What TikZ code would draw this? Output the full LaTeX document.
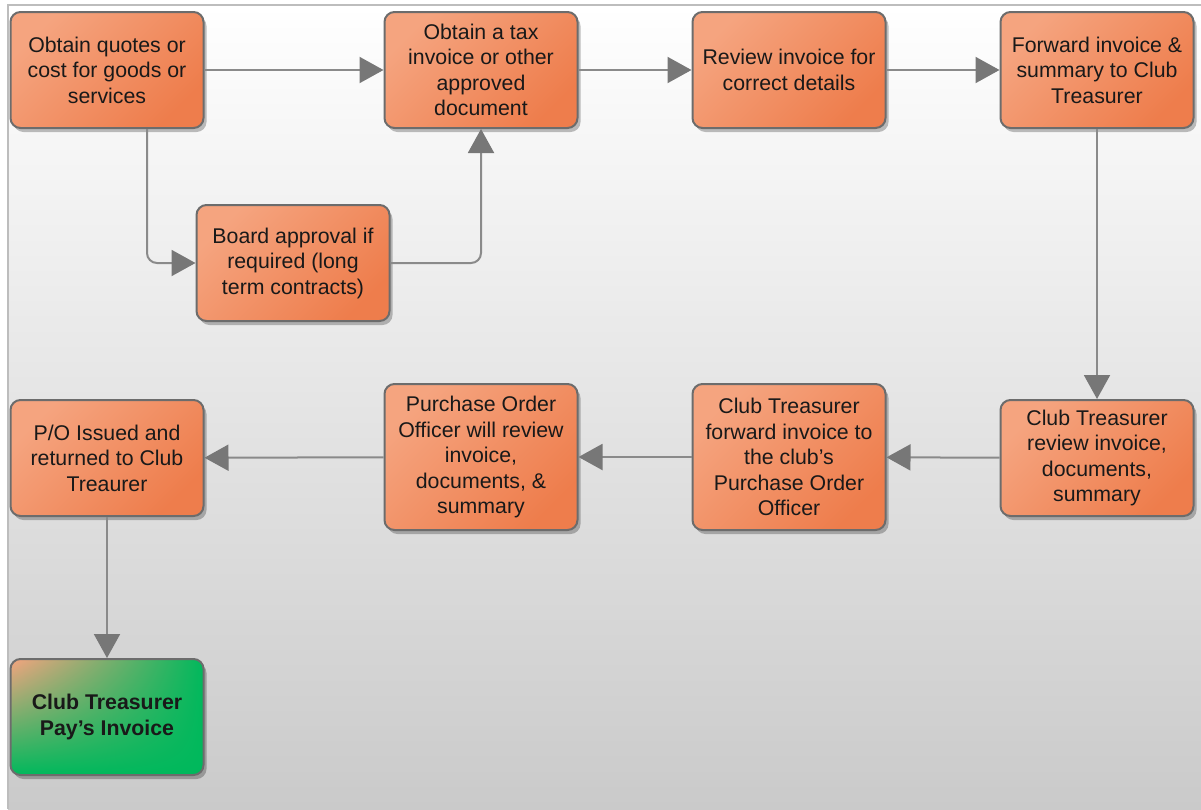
\documentclass[tikz,border=0pt]{standalone}
\usepackage{fontspec}
\setmainfont{Liberation Sans}
\usetikzlibrary{arrows.meta,shadows,shadings,positioning}
\definecolor{orA}{HTML}{F5A47F}
\definecolor{orB}{HTML}{EE7D4C}
\definecolor{grn}{HTML}{00B85C}
\definecolor{edge}{HTML}{6C6C6C}
\definecolor{linec}{HTML}{8A8A8A}
\definecolor{tipc}{HTML}{777777}
\definecolor{bgbot}{HTML}{CACACA}
\definecolor{frame}{HTML}{BDBDBD}
\tikzset{
  boxbase/.style={draw=edge, line width=2pt, rounded corners=10pt,
    minimum width=193pt, minimum height=116pt, align=center,
    inner sep=0pt, text=black!90,
    drop shadow={shadow xshift=3pt, shadow yshift=-4pt, fill=black, opacity=0.25}},
  stepbox/.style={boxbase, font=\fontsize{21.3}{25.5}\selectfont,
    left color=orA, right color=orB, shading angle=45},
  tallbox/.style={stepbox, minimum height=146pt},
  greenbox/.style={boxbase, font=\bfseries\fontsize{21.3}{25.5}\selectfont,
    upper left=orA, upper right=grn, lower left=grn, lower right=grn},
  arr/.style={draw=linec, line width=2pt, -{Triangle[length=24pt,width=26pt,color=tipc,fill=tipc]}}
}
\begin{document}
\begin{tikzpicture}[x=1pt,y=-1pt]
\useasboundingbox (0,0) rectangle (1201,809);
\fill[white] (0,0) rectangle (1201,809);
\shade[top color=white, bottom color=bgbot] (8,5) rectangle (1201,809);
\draw[frame, line width=1.5pt] (8,809) -- (8,5) -- (1201,5);

\node[stepbox] (b1) at (107,70) {Obtain quotes or\\cost for goods or\\services};
\node[stepbox] (b2) at (481,70) {Obtain a tax\\invoice or other\\approved\\document};
\node[stepbox] (b3) at (789,70) {Review invoice for\\correct details};
\node[stepbox] (b4) at (1097,70) {Forward invoice \&\\summary to Club\\Treasurer};
\node[stepbox] (b5) at (293,263) {Board approval if\\required (long\\term contracts)};
\node[stepbox] (b6) at (1097,458) {Club Treasurer\\review invoice,\\documents,\\summary};
\node[tallbox] (b7) at (789,457) {Club Treasurer\\forward invoice to\\the club’s\\Purchase Order\\Officer};
\node[tallbox] (b8) at (481,457) {Purchase Order\\Officer will review\\invoice,\\documents, \&\\summary};
\node[stepbox] (b9) at (107,458) {P/O Issued and\\returned to Club\\Treaurer};
\node[greenbox] (b10) at (107,717) {Club Treasurer\\Pay’s Invoice};

\draw[arr] (b1) -- (b2);
\draw[arr] (b2) -- (b3);
\draw[arr] (b3) -- (b4);
\draw[arr, rounded corners=10pt] ([xshift=40pt]b1.south) |- (b5.west);
\draw[arr, rounded corners=10pt] (b5.east) -| (b2.south);
\draw[arr] (b4) -- (b6);
\draw[arr] (b6) -- (b7);
\draw[arr] (b7) -- (b8);
\draw[arr] (b8) -- (b9);
\draw[arr] (b9) -- (b10);
\end{tikzpicture}
\end{document}
